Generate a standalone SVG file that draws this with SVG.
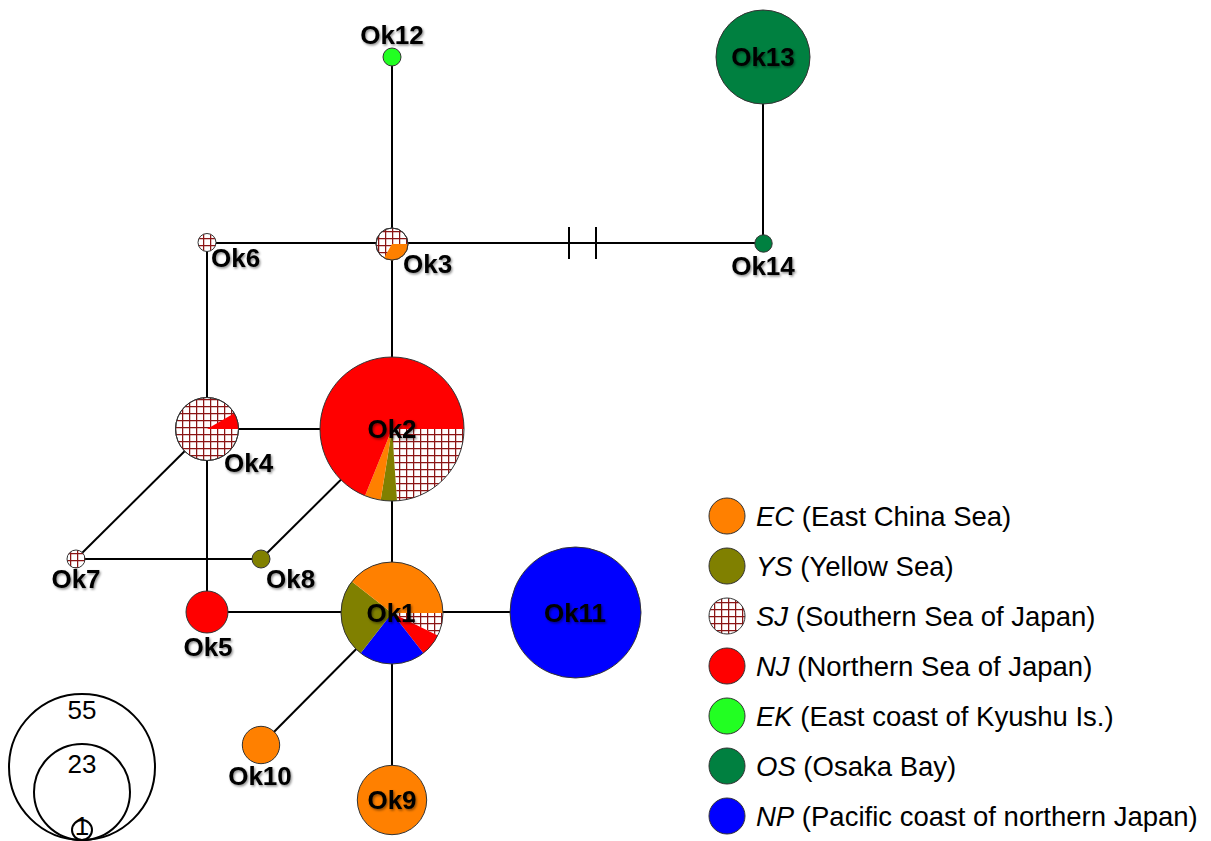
<svg xmlns="http://www.w3.org/2000/svg" width="1211" height="841" viewBox="0 0 1211 841">
<defs>
<pattern id="sj" patternUnits="userSpaceOnUse" width="7" height="7" x="0" y="0">
<rect width="7" height="7" fill="#ffffff"/>
<path d="M0,0.6 H7 M0.6,0 V7" stroke="#8b1515" stroke-width="1.3" fill="none"/>
</pattern>
<filter id="sh" x="-10%" y="-20%" width="130%" height="150%">
<feDropShadow dx="1.2" dy="1.5" stdDeviation="1" flood-color="#000" flood-opacity="0.45"/>
</filter>
</defs>
<style>
.ln{stroke:#000;stroke-width:2;fill:none}
.nd{stroke:#333;stroke-width:1}
.lb{font-family:"Liberation Sans",Arial,sans-serif;font-weight:bold;font-size:26px;fill:#000;filter:url(#sh)}
.lg{font-family:"Liberation Sans",Arial,sans-serif;font-size:27.5px;fill:#000}
.sz{font-family:"Liberation Sans",Arial,sans-serif;font-size:26px;fill:#000}
.ec{fill:#ff8000}.ys{fill:#808000}.sjf{fill:url(#sj)}.nj{fill:#ff0000}.ek{fill:#22ff22}.os{fill:#008040}.np{fill:#0000ff}
</style>
<rect width="1211" height="841" fill="#ffffff"/>
<g id="connectors">
<line class="ln" x1="392" y1="57" x2="392" y2="244"/>
<line class="ln" x1="207" y1="243" x2="764" y2="243"/>
<line class="ln" x1="763" y1="57" x2="763" y2="244"/>
<line class="ln" x1="392" y1="244" x2="392" y2="613"/>
<line class="ln" x1="207" y1="243" x2="207" y2="612"/>
<line class="ln" x1="207" y1="429" x2="392" y2="429"/>
<line class="ln" x1="207" y1="429" x2="76" y2="559"/>
<line class="ln" x1="76" y1="559" x2="261" y2="559"/>
<line class="ln" x1="261" y1="559" x2="392" y2="429"/>
<line class="ln" x1="207" y1="612" x2="575" y2="612"/>
<line class="ln" x1="392" y1="613" x2="261" y2="745"/>
<line class="ln" x1="392" y1="613" x2="392" y2="800"/>
<line class="ln" x1="569" y1="227" x2="569" y2="259"/>
<line class="ln" x1="596" y1="227" x2="596" y2="259"/>
</g>
<g id="Ok12">
<circle class="nd ek" cx="392" cy="57" r="9"/>
<text class="lb" x="392" y="44" text-anchor="middle">Ok12</text>
</g>
<g id="Ok13">
<circle class="nd os" cx="763" cy="57" r="47"/>
<text class="lb" x="763" y="66" text-anchor="middle">Ok13</text>
</g>
<g id="Ok14">
<circle class="nd os" cx="763.5" cy="243.5" r="8.7"/>
<text class="lb" x="763" y="275" text-anchor="middle">Ok14</text>
</g>
<g id="Ok6">
<circle class="nd sjf" cx="207" cy="242.5" r="9"/>
<text class="lb" x="211" y="267">Ok6</text>
</g>
<g id="Ok3">
<circle class="nd sjf" cx="392" cy="244" r="16"/>
<path class="ec" d="M392,244 L408,244 A16,16 0 0 1 384,257.9 Z"/>
<circle cx="392" cy="244" r="16" fill="none" stroke="#333" stroke-width="1"/>
<text class="lb" x="403" y="273">Ok3</text>
</g>
<g id="Ok4">
<circle class="nd sjf" cx="207" cy="429" r="31.5"/>
<path class="nj" d="M207,429 L234.3,413.25 A31.5,31.5 0 0 1 238.5,429 Z"/>
<circle cx="207" cy="429" r="31.5" fill="none" stroke="#333" stroke-width="1"/>
<text class="lb" x="224" y="472">Ok4</text>
</g>
<g id="Ok2">
<path class="sjf" d="M392,429 L464,429 A72,72 0 0 1 397,500.8 Z"/>
<path class="ys" d="M392,429 L397,500.8 A72,72 0 0 1 380.7,500.1 Z"/>
<path class="ec" d="M392,429 L380.7,500.1 A72,72 0 0 1 365,495.8 Z"/>
<path class="nj" d="M392,429 L365,495.8 A72,72 0 1 1 464,429 Z"/>
<circle cx="392" cy="429" r="72" fill="none" stroke="#333" stroke-width="1"/>
<text class="lb" x="392" y="438" text-anchor="middle">Ok2</text>
</g>
<g id="Ok7">
<circle class="nd sjf" cx="76" cy="559" r="9"/>
<text class="lb" x="76" y="588" text-anchor="middle">Ok7</text>
</g>
<g id="Ok8">
<circle class="nd ys" cx="261" cy="559" r="9"/>
<text class="lb" x="266" y="588">Ok8</text>
</g>
<g id="Ok5">
<circle class="nd nj" cx="207" cy="612" r="21"/>
<text class="lb" x="208" y="656" text-anchor="middle">Ok5</text>
</g>
<g id="Ok1">
<path class="sjf" d="M392,613 L443,613 A51,51 0 0 1 437.8,635.4 Z"/>
<path class="nj" d="M392,613 L437.8,635.4 A51,51 0 0 1 423.4,653.2 Z"/>
<path class="np" d="M392,613 L423.4,653.2 A51,51 0 0 1 360.6,653.2 Z"/>
<path class="ys" d="M392,613 L360.6,653.2 A51,51 0 0 1 351.8,581.6 Z"/>
<path class="ec" d="M392,613 L351.8,581.6 A51,51 0 0 1 443,613 Z"/>
<circle cx="392" cy="613" r="51" fill="none" stroke="#333" stroke-width="1"/>
<text class="lb" x="391" y="622" text-anchor="middle">Ok1</text>
</g>
<g id="Ok11">
<circle class="nd np" cx="575.5" cy="612.5" r="65.5"/>
<text class="lb" x="575" y="622" text-anchor="middle">Ok11</text>
</g>
<g id="Ok10">
<circle class="nd ec" cx="261" cy="745" r="18.7"/>
<text class="lb" x="260" y="785" text-anchor="middle">Ok10</text>
</g>
<g id="Ok9">
<circle class="nd ec" cx="392" cy="800" r="34.7"/>
<text class="lb" x="392" y="809" text-anchor="middle">Ok9</text>
</g>
<g id="legend">
<circle class="nd ec" cx="727" cy="516" r="18"/>
<text class="lg" x="756" y="526"><tspan font-style="italic">EC</tspan> (East China Sea)</text>
<circle class="nd ys" cx="727" cy="566" r="18"/>
<text class="lg" x="756" y="576"><tspan font-style="italic">YS</tspan> (Yellow Sea)</text>
<circle class="nd sjf" cx="727" cy="616" r="18"/>
<text class="lg" x="756" y="626"><tspan font-style="italic">SJ</tspan> (Southern Sea of Japan)</text>
<circle class="nd nj" cx="727" cy="666" r="18"/>
<text class="lg" x="756" y="676"><tspan font-style="italic">NJ</tspan> (Northern Sea of Japan)</text>
<circle class="nd ek" cx="727" cy="716" r="18"/>
<text class="lg" x="756" y="726"><tspan font-style="italic">EK</tspan> (East coast of Kyushu Is.)</text>
<circle class="nd os" cx="727" cy="766" r="18"/>
<text class="lg" x="756" y="776"><tspan font-style="italic">OS</tspan> (Osaka Bay)</text>
<circle class="nd np" cx="727" cy="816" r="18"/>
<text class="lg" x="756" y="826"><tspan font-style="italic">NP</tspan> (Pacific coast of northern Japan)</text>
</g>
<g id="size-legend">
<circle cx="82" cy="767" r="73" fill="none" stroke="#000" stroke-width="2"/>
<circle cx="82" cy="792" r="48" fill="none" stroke="#000" stroke-width="2"/>
<circle cx="82" cy="830" r="10" fill="none" stroke="#000" stroke-width="2"/>
<text class="sz" x="82" y="835" text-anchor="middle" font-size="15">1</text>
</g>
<g id="size-labels">
<text class="sz" x="82" y="719" text-anchor="middle">55</text>
<text class="sz" x="82" y="773" text-anchor="middle">23</text>
</g>
</svg>
